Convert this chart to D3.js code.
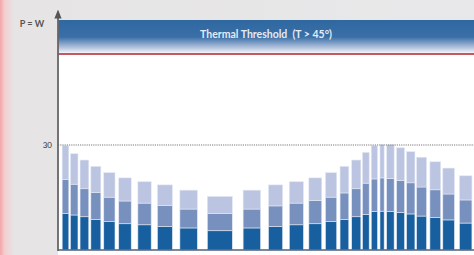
<!DOCTYPE html>
<html>
<head>
<meta charset="utf-8">
<script src="https://cdn.jsdelivr.net/npm/d3@7"></script>
<style>
  body { margin: 0; padding: 0; overflow: hidden; }
  svg { display: block; font-family: Lato, "Open Sans", sans-serif; }
</style>
</head>
<body>
<script>
// bins along the day profile (0-100 span), and the three stacked layers
var binStart = [1.0, 3.0, 5.3, 7.9, 11.0, 14.6, 19.2, 23.9, 29.3, 35.9, 44.5, 50.6, 55.6, 60.3, 64.3, 67.8, 70.6, 73.2, 75.3, 77.4, 79.0, 81.4, 83.8, 86.2, 89.4, 92.5, 96.5];
var binEnd   = [2.6, 4.8, 7.4, 10.3, 13.7, 17.6, 22.4, 27.5, 33.5, 41.9, 48.7, 54.0, 59.0, 63.4, 67.0, 69.9, 72.8, 74.8, 76.8, 78.4, 80.8, 83.3, 85.8, 88.6, 92.0, 95.3, 99.5];
var baseLoad  = [10.4, 10.0, 9.5, 8.7, 8.1, 7.5, 7.2, 6.7, 6.3, 5.5, 6.3, 6.7, 7.2, 7.5, 8.1, 8.7, 9.5, 10.2, 11.0, 11.1, 11.0, 10.7, 10.3, 9.7, 9.3, 8.6, 7.7];
var midLoad   = [9.7, 8.8, 8.0, 7.7, 7.0, 6.5, 6.2, 6.0, 5.4, 4.9, 5.4, 5.9, 6.2, 6.6, 7.0, 7.6, 8.0, 8.9, 9.3, 9.5, 9.4, 9.2, 8.9, 8.3, 7.9, 7.4, 6.6];
var peakLoad  = [9.7, 8.7, 8.2, 7.5, 7.0, 6.6, 6.1, 5.9, 5.4, 4.9, 5.4, 6.0, 6.1, 6.5, 7.0, 7.6, 8.2, 8.8, 9.5, 9.5, 9.7, 9.3, 8.9, 8.5, 8.0, 7.4, 6.9];
var yTicks = [30];
var thresholdValue = 56;
var yLabel = "P = W";
var headerText = "Thermal Threshold  (T > 45°)";

var width = 474, height = 255;
var margin = { top: 12, right: 0, bottom: 5, left: 58 };

var svg = d3.select("body").append("svg")
    .attr("width", width)
    .attr("height", height);

var defs = svg.append("defs");

var bgGrad = defs.append("linearGradient").attr("id", "bg")
    .attr("x1", "0").attr("y1", "0").attr("x2", "1").attr("y2", "0");
bgGrad.append("stop").attr("offset", "0").attr("stop-color", "#f3a6a8");
bgGrad.append("stop").attr("offset", "0.01").attr("stop-color", "#f3cfd0");
bgGrad.append("stop").attr("offset", "0.03").attr("stop-color", "#e6e4e4");
bgGrad.append("stop").attr("offset", "1").attr("stop-color", "#e8e8ea");

var headGrad = defs.append("linearGradient").attr("id", "head")
    .attr("x1", "0").attr("y1", "0").attr("x2", "0").attr("y2", "1");
headGrad.append("stop").attr("offset", "0").attr("stop-color", "#2f68a1");
headGrad.append("stop").attr("offset", "0.5").attr("stop-color", "#3a6fa6");
headGrad.append("stop").attr("offset", "0.82").attr("stop-color", "#b6c5df");
headGrad.append("stop").attr("offset", "1").attr("stop-color", "#ffffff");

defs.append("marker").attr("id", "arrow")
    .attr("viewBox", "0 0 10 10").attr("refX", 5).attr("refY", 5)
    .attr("markerWidth", 5).attr("markerHeight", 5).attr("orient", "auto")
  .append("path").attr("d", "M0,1 L10,5 L0,9 Z").attr("fill", "#555");

svg.append("rect").attr("width", width).attr("height", height).attr("fill", "url(#bg)");

var x = d3.scaleLinear().domain([0, 100]).range([margin.left, 474]);
var y = d3.scaleLinear().domain([0, 68]).range([height - margin.bottom, margin.top]);

// white plot area
svg.append("rect")
    .attr("x", x(0)).attr("y", y(thresholdValue) - 34)
    .attr("width", x(100) - x(0)).attr("height", y(0) - y(thresholdValue) + 34 + margin.bottom)
    .attr("fill", "#ffffff");

// header band
svg.append("rect")
    .attr("x", x(0)).attr("y", y(thresholdValue) - 34)
    .attr("width", x(100) - x(0)).attr("height", 34)
    .attr("fill", "url(#head)");

svg.append("text")
    .attr("x", 266).attr("y", y(thresholdValue) - 16)
    .attr("text-anchor", "middle")
    .attr("fill", "#e4ebf5")
    .attr("font-size", 10.5).attr("font-weight", "bold")
    .attr("xml:space", "preserve")
    .text(headerText);

// threshold line
svg.append("line")
    .attr("x1", x(0)).attr("x2", x(100))
    .attr("y1", y(thresholdValue)).attr("y2", y(thresholdValue))
    .attr("stroke", "#b3212e").attr("stroke-width", 1.4);

// stacked bars
var rows = binStart.map(function(s, i) {
    return { start: s, end: binEnd[i], base: baseLoad[i], mid: midLoad[i], peak: peakLoad[i] };
});
var stack = d3.stack().keys(["base", "mid", "peak"])(rows);
var colors = { base: "#175f9f", mid: "#7890be", peak: "#bbc4e0" };

svg.append("g").selectAll("g")
    .data(stack).enter().append("g")
    .attr("fill", function(d) { return colors[d.key]; })
  .selectAll("rect")
    .data(function(d) { return d; })
    .enter().append("rect")
    .attr("x", function(d) { return x(d.data.start); })
    .attr("width", function(d) { return x(d.data.end) - x(d.data.start); })
    .attr("y", function(d) { return y(d[1]); })
    .attr("height", function(d) { return y(d[0]) - y(d[1]); })
    .attr("stroke", "#e3e8f3").attr("stroke-width", 0.6);

// dotted guide at 30
svg.append("g").selectAll("line")
    .data(yTicks).enter().append("line")
    .attr("x1", x(0)).attr("x2", x(100))
    .attr("y1", function(d) { return y(d); }).attr("y2", function(d) { return y(d); })
    .attr("stroke", "#7a7a7a").attr("stroke-width", 1.2)
    .attr("stroke-dasharray", "1.2,1");

// y axis
var yAxis = svg.append("g")
    .attr("transform", "translate(" + margin.left + ",0)")
    .call(d3.axisLeft(y).tickValues(yTicks).tickSize(0).tickPadding(6));
yAxis.select(".domain").remove();
yAxis.selectAll("text")
    .attr("font-family", "Lato, sans-serif")
    .attr("font-size", 8).attr("fill", "#333");

svg.append("line")
    .attr("x1", margin.left).attr("x2", margin.left)
    .attr("y1", y(0) + 1).attr("y2", y(68) + 2)
    .attr("stroke", "#666").attr("stroke-width", 1.8)
    .attr("marker-end", "url(#arrow)");

// baseline
svg.append("line")
    .attr("x1", margin.left).attr("x2", x(100))
    .attr("y1", y(0)).attr("y2", y(0))
    .attr("stroke", "#52607a").attr("stroke-width", 1.5);

svg.append("text")
    .attr("x", 32).attr("y", 27)
    .attr("text-anchor", "middle")
    .attr("fill", "#555").attr("font-size", 9).attr("font-weight", "bold")
    .text(yLabel);
</script>
</body>
</html>
